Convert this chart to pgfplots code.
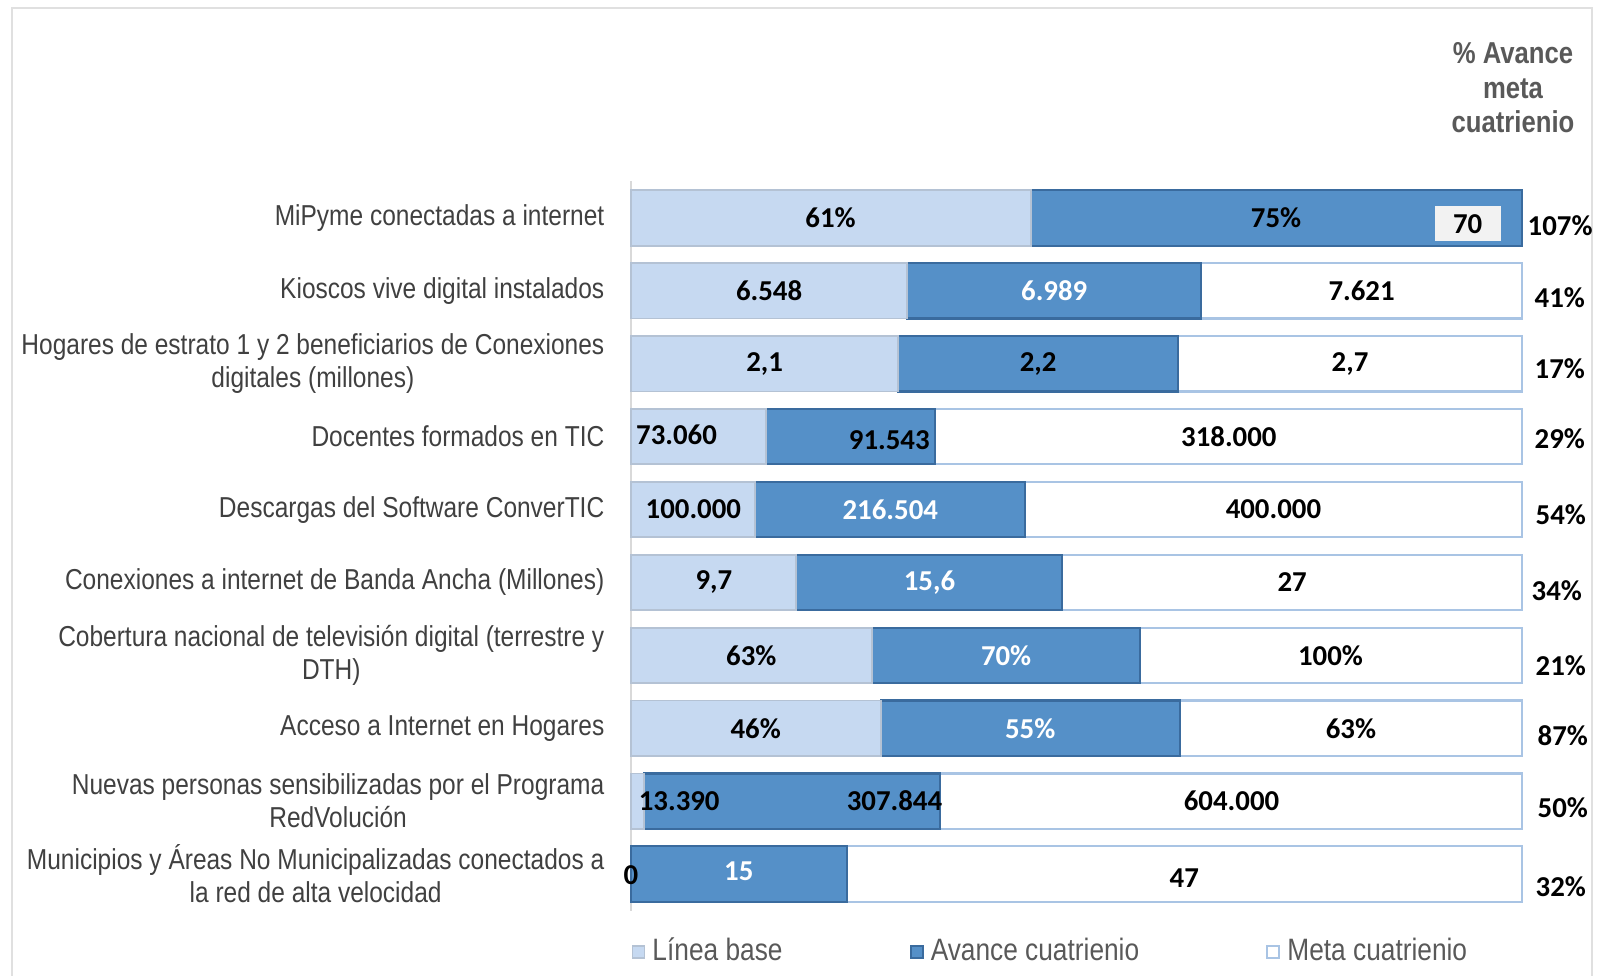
\documentclass[border=0pt]{standalone}
\usepackage{fontspec}
\setmainfont{Liberation Sans}
\newfontfamily\narrow{Liberation Sans}[FakeStretch=0.85]
\newfontfamily\calib{Carlito}
\usepackage{pgfplots}
\usepackage{pgfplotstable}
\pgfplotsset{compat=1.18}

\definecolor{lbase}{HTML}{C6D9F1}
\definecolor{lbedge}{HTML}{B4C2D4}
\definecolor{avance}{HTML}{5590C8}
\definecolor{avedge}{HTML}{3A6B9E}
\definecolor{metaedge}{HTML}{A9C4E4}
\definecolor{txtgray}{HTML}{404040}
\definecolor{hdgray}{HTML}{595959}

% raw values: linea base, avance, meta (row 1 = top bar)
\pgfplotstableread{
row base avance meta
1 61 75 0
2 6548 6989 7621
3 2.1 2.2 2.7
4 73060 91543 318000
5 100000 216504 400000
6 9.7 15.6 27
7 63 70 100
8 46 55 63
9 13390 307844 604000
10 0 15 47
}\datos

\newcommand{\vl}{\calib\bfseries\fontsize{8.2}{9}\selectfont}
\pgfplotsset{frame/.style={
  at={(6.31cm,0.655cm)}, anchor=south west,
  scale only axis, width=8.91cm, height=7.29cm,
  xmin=0, xmax=100, ymin=0.5, ymax=10.5, y dir=reverse, clip=false}}

\begin{document}
\begin{tikzpicture}
\path[use as bounding box] (0,0) rectangle (16.02,9.76);
\draw[black!12] (0.12,0) -- (0.12,9.68) -- (15.92,9.68) -- (15.92,0);

\node[align=center, text=hdgray, font=\narrow\bfseries\fontsize{8.6}{9.8}\selectfont]
  at (15.13,8.88) {\% Avance\\meta\\cuatrienio};

\begin{axis}[
  frame,
  xbar stacked, bar width=0.76,
  axis x line=none, axis y line*=left,
  y axis line style={draw=black!15, -},
  ytick={1,...,10}, major tick length=0pt,
  yticklabels={
    MiPyme conectadas a internet,
    Kioscos vive digital instalados,
    {Hogares de estrato 1 y 2 beneficiarios de Conexiones\\digitales (millones)},
    Docentes formados en TIC,
    Descargas del Software ConverTIC,
    Conexiones a internet de Banda Ancha (Millones),
    {Cobertura nacional de televisión digital (terrestre y\\DTH)},
    Acceso a Internet en Hogares,
    {Nuevas personas sensibilizadas por el Programa\\RedVolución},
    {Municipios y Áreas No Municipalizadas conectados a\\la red de alta velocidad}},
  yticklabel style={align=center, text=txtgray, inner sep=0pt, xshift=-2.6mm,
    font=\narrow\fontsize{8.2}{9.4}\selectfont},
  legend columns=3,
  legend style={at={(0.0,-0.057)}, anchor=west, draw=none, fill=none,
    inner sep=0pt, text=hdgray,
    font=\narrow\fontsize{8.8}{10}\selectfont,
    /tikz/every even column/.append style={column sep=12mm}},
  legend image code/.code={\draw[#1] (0mm,-0.6mm) rectangle (1.2mm,0.6mm);},
]
\addplot[fill=lbase, draw=lbedge, line width=0.5pt] table[y=row,
  x expr={100*\thisrow{base}/(\thisrow{base}+\thisrow{avance}+\thisrow{meta})}] {\datos};
\addplot[fill=avance, draw=avedge, line width=0.6pt] table[y=row,
  x expr={100*\thisrow{avance}/(\thisrow{base}+\thisrow{avance}+\thisrow{meta})}] {\datos};
\addplot[fill=white, draw=metaedge, line width=0.6pt] table[y=row,
  x expr={100*\thisrow{meta}/(\thisrow{base}+\thisrow{avance}+\thisrow{meta})}] {\datos};
\legend{Línea base, Avance cuatrienio, Meta cuatrienio}
\end{axis}

% labels on top of the bars, same geometry
\begin{axis}[frame, hide axis]
\tikzset{bl/.style={font=\vl, inner sep=0pt}, wl/.style={bl, text=white}}
\node[bl] at (axis cs:22.4,1) {61\%};
\node[bl] at (axis cs:72.4,1) {75\%};
\node[fill=black!5, minimum width=6.6mm, minimum height=3.5mm, inner sep=0pt, font=\vl]
  at (axis cs:93.9,1) [yshift=-0.6mm] {70};
\node[bl] at (axis cs:15.5,2) {6.548};
\node[wl] at (axis cs:47.5,2) {6.989};
\node[bl] at (axis cs:82.0,2) {7.621};
\node[bl] at (axis cs:15.0,3) {2,1};
\node[bl] at (axis cs:45.7,3) {2,2};
\node[bl] at (axis cs:80.7,3) {2,7};
\node[bl, anchor=west] at (axis cs:0.5,4) [yshift=0.2mm] {73.060};
\node[bl, anchor=east] at (axis cs:33.6,4) [yshift=-0.3mm] {91.543};
\node[bl] at (axis cs:67.1,4) {318.000};
\node[bl] at (axis cs:7.0,5) {100.000};
\node[wl] at (axis cs:29.1,5) {216.504};
\node[bl] at (axis cs:72.1,5) {400.000};
\node[bl] at (axis cs:9.3,6) {9,7};
\node[wl] at (axis cs:33.5,6) {15,6};
\node[bl] at (axis cs:74.2,6) {27};
\node[bl] at (axis cs:13.5,7) {63\%};
\node[wl] at (axis cs:42.1,7) {70\%};
\node[bl] at (axis cs:78.5,7) {100\%};
\node[bl] at (axis cs:14.0,8) {46\%};
\node[wl] at (axis cs:44.8,8) {55\%};
\node[bl] at (axis cs:80.8,8) {63\%};
\node[bl, anchor=west] at (axis cs:0.8,9) {13.390};
\node[bl, anchor=east] at (axis cs:35.0,9) {307.844};
\node[bl] at (axis cs:67.4,9) {604.000};
\node[bl] at (axis cs:0,10) [yshift=-0.1mm] {0};
\node[wl] at (axis cs:12.1,10) [yshift=0.3mm] {15};
\node[bl] at (axis cs:62.1,10) [yshift=-0.4mm] {47};

% % avance meta cuatrienio
\tikzset{pl/.style={font=\vl, anchor=west, inner sep=0pt}}
\node[pl] at (axis cs:100,1) [xshift=0.5mm, yshift=-0.8mm] {107\%};
\node[pl] at (axis cs:100,2) [xshift=1.2mm, yshift=-0.7mm] {41\%};
\node[pl] at (axis cs:100,3) [xshift=1.2mm, yshift=-0.5mm] {17\%};
\node[pl] at (axis cs:100,4) [xshift=1.2mm, yshift=-0.2mm] {29\%};
\node[pl] at (axis cs:100,5) [xshift=1.3mm, yshift=-0.5mm] {54\%};
\node[pl] at (axis cs:100,6) [xshift=0.9mm, yshift=-0.8mm] {34\%};
\node[pl] at (axis cs:100,7) [xshift=1.3mm, yshift=-1.0mm] {21\%};
\node[pl] at (axis cs:100,8) [xshift=1.5mm, yshift=-0.7mm] {87\%};
\node[pl] at (axis cs:100,9) [xshift=1.5mm, yshift=-0.7mm] {50\%};
\node[pl] at (axis cs:100,10) [xshift=1.3mm, yshift=-1.3mm] {32\%};
\end{axis}
\end{tikzpicture}
\end{document}
